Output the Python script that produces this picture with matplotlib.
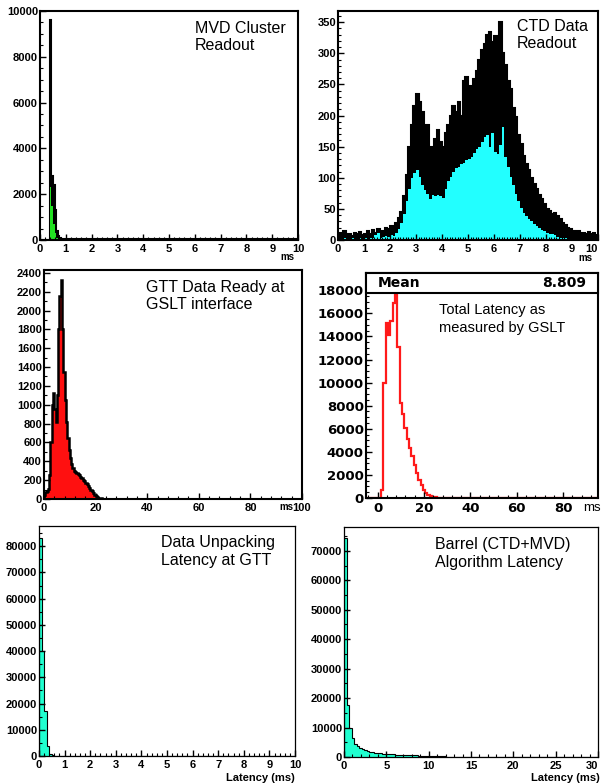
import numpy as np
import matplotlib
matplotlib.use('Agg')
import matplotlib.pyplot as plt
from matplotlib.ticker import MultipleLocator, FixedFormatter, FixedLocator
from matplotlib.patches import Rectangle

W, H = 602, 783

# MVD cluster readout (ms): all events (black) and subset (green)
mvd_edges = [0.0, 0.375, 0.4375, 0.5, 0.5625, 0.625, 0.6875, 0.75, 0.8125, 1.0,
             1.5, 2.0, 2.5, 3.0, 3.5, 4.0, 4.5, 5.0, 5.5, 6.0, 6.5, 7.0, 7.5,
             8.0, 8.5, 9.0, 9.5, 10.0]
mvd_all = [0, 9600, 2800, 2400, 1300, 400, 180, 90, 60,
           45, 40, 45, 40, 35, 40, 35, 40, 35, 30, 35, 30, 35, 30, 30, 35, 30, 30]
mvd_sub = [0, 2300, 1500, 700, 300, 80, 20, 5, 0,
           0, 0, 0, 0, 0, 0, 0, 0, 0, 0, 0, 0, 0, 0, 0, 0, 0, 0]

# CTD data readout (ms), 0.1 ms bins
ctd_all = [12, 8, 14, 7, 10, 6, 11, 9, 13, 8,
           10, 14, 9, 16, 12, 18, 11, 15, 20, 17,
           22, 19, 28, 35, 45, 70, 105, 150, 185, 215,
           235, 222, 205, 178, 185, 150, 140, 162, 176, 158,
           150, 172, 185, 200, 215, 205, 222, 200, 255, 262,
           248, 240, 258, 272, 290, 305, 315, 330, 335, 318,
           328, 305, 350, 300, 282, 255, 242, 212, 198, 168,
           155, 135, 122, 112, 100, 90, 82, 72, 66, 58,
           50, 46, 42, 44, 38, 33, 28, 24, 20, 17,
           14, 12, 15, 10, 12, 9, 13, 10, 11, 8]
ctd_sub = [2, 1, 3, 1, 2, 4, 2, 1, 3, 2,
           3, 2, 4, 3, 8, 12, 4, 5, 6, 5,
           8, 7, 12, 18, 28, 42, 62, 82, 100, 108,
           112, 102, 88, 80, 74, 66, 72, 70, 72, 71,
           68, 82, 95, 102, 110, 116, 118, 122, 124, 128,
           130, 134, 140, 146, 150, 158, 165, 168, 150, 172,
           142, 138, 152, 182, 134, 118, 102, 88, 74, 62,
           52, 44, 38, 34, 30, 26, 22, 19, 16, 14,
           12, 10, 9, 8, 5, 4, 3, 3, 2, 2,
           2, 1, 2, 1, 1, 2, 1, 1, 2, 1]
ctd_ticks = [0, 1, 2, 3, 4, 5, 6, 7, 8, 9, 10]

# GTT data ready at GSLT interface (ms), 0.5 ms bins up to 25 then wide bins
gtt_counts = [40, 70, 90, 110, 250, 600, 1000, 1120, 950, 820,
              1100, 1800, 2150, 2320, 1800, 1350, 1050, 820, 650, 520,
              430, 370, 330, 300, 290, 275, 265, 250, 235, 220,
              205, 190, 175, 160, 140, 120, 100, 80, 60, 45,
              32, 22, 15, 10, 7, 5, 4, 3, 2, 2,
              1, 0]

# Total latency measured by GSLT (ms)
total_counts = [0, 700, 10000, 15200, 14100, 15300, 16900, 17900, 13100, 8200,
                7300, 6100, 5100, 4300, 3600, 2900, 2200, 1600, 1150, 700,
                430, 230, 140, 90, 50, 20, 0]
total_mean = '8.809'

# Data unpacking latency at GTT (ms)
unpack_edges = [0.0, 0.1, 0.2, 0.3, 0.4, 0.5, 0.6, 0.7, 0.8, 1.0, 10.0]
unpack_counts = [83000, 40000, 17300, 3800, 600, 200, 100, 60, 30, 0]

# Barrel (CTD+MVD) algorithm latency (ms), 0.3 ms bins up to 15
barrel_counts = [74500, 17500, 10000, 6500, 4500, 3700, 3000, 2600, 2300, 2000,
                 1800, 1600, 1450, 1300, 1200, 1100, 1000, 950, 900, 850,
                 800, 760, 720, 680, 640, 600, 570, 540, 510, 480,
                 450, 420, 390, 360, 330, 300, 270, 240, 210, 180,
                 150, 120, 100, 80, 60, 45, 35, 25, 15, 10, 3]
barrel_ticks = [0, 5, 10, 15, 20, 25, 30]

TEXT_FONT = 'Liberation Sans'


def px_axes(fig, x0, y0, x1, y1):
    return fig.add_axes([x0 / W, 1 - y1 / H, (x1 - x0) / W, (y1 - y0) / H])


def style(ax, xmaj, xmin, ymaj, ymin, frame=1.5, fsize=8, family='Liberation Sans'):
    for sp in ax.spines.values():
        sp.set_linewidth(frame)
    if xmaj is not None:
        ax.xaxis.set_major_locator(MultipleLocator(xmaj))
    ax.xaxis.set_minor_locator(MultipleLocator(xmin))
    ax.yaxis.set_major_locator(MultipleLocator(ymaj))
    ax.yaxis.set_minor_locator(MultipleLocator(ymin))
    ax.tick_params(which='both', direction='in', top=False, right=False)
    ax.tick_params(which='major', length=4, width=1)
    ax.tick_params(which='minor', length=2, width=0.8)
    ax.tick_params(axis='y', pad=1.5)
    ax.tick_params(axis='x', pad=3)
    for lab in ax.get_xticklabels() + ax.get_yticklabels():
        lab.set_fontfamily(family)
        lab.set_fontweight('bold')
        lab.set_fontsize(fsize)


def edge_ticks(ax, ticks):
    # last label sits at the figure edge: right-align it so it stays inside
    ax.xaxis.set_major_locator(FixedLocator(ticks))
    ax.xaxis.set_major_formatter(FixedFormatter([str(t) for t in ticks[:-1]] + ['']))
    ax.annotate(str(ticks[-1]), xy=(1, 0), xycoords='axes fraction',
                xytext=(0, -3), textcoords='offset points', ha='right', va='top',
                fontsize=8, family='Liberation Sans', weight='bold')


def label(fig, x, y, text, size=11.5, **kw):
    fig.text(x / W, 1 - y / H, text, fontsize=size, family=TEXT_FONT,
             va='baseline', **kw)


def main():
    fig = plt.figure(figsize=(W / 100, H / 100), dpi=100)

    # MVD cluster readout
    ax = px_axes(fig, 40, 11, 298, 240)
    ax.stairs(mvd_all, mvd_edges, fill=True, color='black')
    ax.stairs(mvd_all, mvd_edges, color='black', linewidth=1.5)
    ax.stairs(mvd_sub, mvd_edges, fill=True, color='#22e022')
    ax.set_xlim(0, 10)
    ax.set_ylim(0, 10000)
    style(ax, 1, 0.2, 2000, 500)
    label(fig, 195, 33, 'MVD Cluster')
    label(fig, 195, 50, 'Readout')
    label(fig, 280, 260, 'ms', size=7, weight='bold')

    # CTD data readout
    ctd_edges = np.linspace(0, 10, len(ctd_all) + 1)
    ax = px_axes(fig, 338, 11, 598, 240)
    ax.stairs(ctd_all, ctd_edges, fill=True, color='black')
    ax.stairs(ctd_all, ctd_edges, color='black', linewidth=1.5)
    ax.stairs(ctd_sub, ctd_edges, fill=True, color='#22ffff')
    ax.set_xlim(0, 10)
    ax.set_ylim(0, 368)
    edge_ticks(ax, ctd_ticks)
    style(ax, None, 0.1, 50, 10)
    label(fig, 517, 31, 'CTD Data')
    label(fig, 517, 48, 'Readout')
    label(fig, 578, 261, 'ms', size=7, weight='bold')

    # GTT data ready at GSLT interface
    gtt_edges = list(np.arange(0, 25.5, 0.5)) + [30, 100]
    ax = px_axes(fig, 44, 270, 302, 499)
    ax.stairs(gtt_counts, gtt_edges, fill=True, color='#ff1010')
    ax.stairs(gtt_counts, gtt_edges, color='black', linewidth=1.8)
    ax.set_xlim(0, 100)
    ax.set_ylim(0, 2430)
    style(ax, 20, 4, 200, 100)
    label(fig, 146, 292, 'GTT Data Ready at')
    label(fig, 146, 309, 'GSLT interface')
    label(fig, 279, 510, 'ms', size=7, weight='bold')

    # Total latency as measured by GSLT
    total_edges = [-5.0] + list(np.arange(1.5, 1.5 + len(total_counts) - 1)) + [95.0]
    ax = px_axes(fig, 366, 273, 598, 498)
    ax.stairs(total_counts, total_edges, color='#ff1a1a', linewidth=1.6)
    ax.set_xlim(-5, 95)
    ax.set_ylim(0, 19500)
    style(ax, 20, 4, 2000, 500, fsize=9.5, family='DejaVu Sans')
    ax.add_patch(Rectangle((0, 1 - 20 / 225), 1, 20 / 225, transform=ax.transAxes,
                           facecolor='white', edgecolor='black', linewidth=1.5,
                           zorder=5, clip_on=False))
    ax.text(0.05, 1 - 10 / 225, 'Mean', transform=ax.transAxes, fontsize=10,
            family='DejaVu Sans', weight='bold', va='center', ha='left', zorder=6)
    ax.text(0.95, 1 - 10 / 225, total_mean, transform=ax.transAxes, fontsize=10,
            family='DejaVu Sans', weight='bold', va='center', ha='right', zorder=6)
    label(fig, 439, 314, 'Total Latency as', size=10.5)
    label(fig, 439, 332, 'measured by GSLT', size=10.5)
    label(fig, 583, 511, 'ms', size=9.5)

    # Data unpacking latency at GTT
    ax = px_axes(fig, 39, 526, 295, 756)
    ax.stairs(unpack_counts, unpack_edges, fill=True, color='#20ffd0')
    ax.stairs(unpack_counts, unpack_edges, color='black', linewidth=0.8)
    ax.set_xlim(0, 10)
    ax.set_ylim(0, 87700)
    style(ax, 1, 0.2, 10000, 5000, frame=0.9)
    label(fig, 161, 547, 'Data Unpacking')
    label(fig, 161, 565, 'Latency at GTT')
    label(fig, 226, 781, 'Latency (ms)', size=8, weight='bold')

    # Barrel algorithm latency
    barrel_edges = list(np.linspace(0, 15, len(barrel_counts))) + [30.0]
    ax = px_axes(fig, 344, 527, 598, 757)
    ax.stairs(barrel_counts, barrel_edges, fill=True, color='#20ffd0')
    ax.stairs(barrel_counts, barrel_edges, color='black', linewidth=0.8)
    ax.set_xlim(0, 30)
    ax.set_ylim(0, 78100)
    edge_ticks(ax, barrel_ticks)
    style(ax, None, 1, 10000, 5000, frame=0.9)
    label(fig, 435, 549, 'Barrel (CTD+MVD)')
    label(fig, 435, 567, 'Algorithm Latency')
    label(fig, 531, 781, 'Latency (ms)', size=8, weight='bold')

    fig.savefig('out.png', dpi=100)


if __name__ == '__main__':
    main()
